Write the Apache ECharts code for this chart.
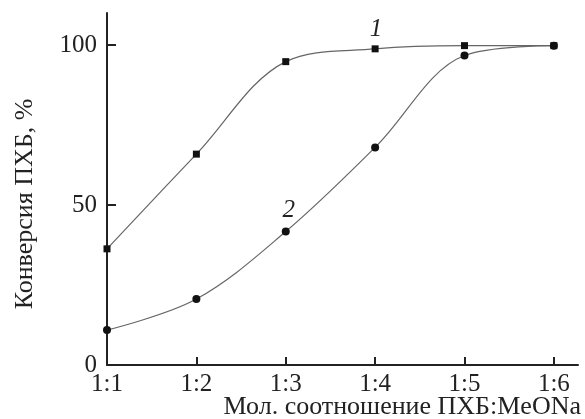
<!DOCTYPE html>
<html><head><meta charset="utf-8">
<script src="https://cdn.jsdelivr.net/npm/echarts@6/dist/echarts.min.js"></script>
<style>html,body{margin:0;padding:0;background:#fff}#c{width:585px;height:419px}</style>
</head><body><div id="c"></div>
<script>
var ratios = [1, 2, 3, 4, 5, 6];
var tickLabels = ['1:1', '1:2', '1:3', '1:4', '1:5', '1:6'];
var curve1 = [36.3, 65.9, 94.8, 98.8, 99.8, 99.8];
var curve2 = [10.9, 20.6, 41.7, 68.0, 96.7, 99.8];
var yTicks = [0, 50, 100];
var FONT = 'Liberation Serif';

function pairs(vals, labelIdx, labelText, offset) {
  return vals.map(function (v, i) {
    var d = { value: [ratios[i], v] };
    if (i === labelIdx) {
      d.label = { show: true, formatter: labelText, position: 'top', offset: offset,
        fontFamily: FONT, fontStyle: 'italic', fontSize: 25, color: '#222' };
    }
    return d;
  });
}

var chart = echarts.init(document.getElementById('c'));
chart.setOption({
  animation: false,
  grid: { left: 107, right: 7, top: 13, bottom: 54 },
  xAxis: {
    type: 'value', min: 1, max: 6.27, z: 3,
    axisLine: { lineStyle: { color: '#222', width: 2 } },
    axisTick: { inside: true, length: 8, customValues: ratios, lineStyle: { color: '#222', width: 2 } },
    axisLabel: { customValues: ratios, margin: 7, fontFamily: FONT, fontSize: 25, color: '#222',
      formatter: function (v) { return tickLabels[ratios.indexOf(v)]; } },
    splitLine: { show: false }
  },
  yAxis: {
    type: 'value', min: 0, max: 110, z: 3,
    axisLine: { show: true, lineStyle: { color: '#222', width: 2 } },
    axisTick: { show: true, inside: true, length: 9, customValues: yTicks, lineStyle: { color: '#222', width: 2 } },
    axisLabel: { customValues: yTicks, margin: 10, fontFamily: FONT, fontSize: 25, color: '#222' },
    splitLine: { show: false }
  },
  graphic: [
    { type: 'text', x: 25, y: 204, rotation: Math.PI / 2,
      style: { text: 'Конверсия ПХБ, %', font: '26px ' + FONT, fill: '#222', textAlign: 'center', textVerticalAlign: 'middle' } },
    { type: 'text', x: 581, y: 407,
      style: { text: 'Мол. соотношение ПХБ:MeONa', font: '26px ' + FONT, fill: '#222', textAlign: 'right', textVerticalAlign: 'middle' } }
  ],
  series: [
    { type: 'line', smooth: 0.35, data: pairs(curve1, 3, '1', [1, 2]),
      symbol: 'rect', symbolSize: 7, itemStyle: { color: '#111' },
      lineStyle: { color: '#666', width: 1.2 } },
    { type: 'line', smooth: 0.35, data: pairs(curve2, 2, '2', [3, 0]),
      symbol: 'circle', symbolSize: 8, itemStyle: { color: '#111' },
      lineStyle: { color: '#666', width: 1.2 } }
  ]
});
</script></body></html>
